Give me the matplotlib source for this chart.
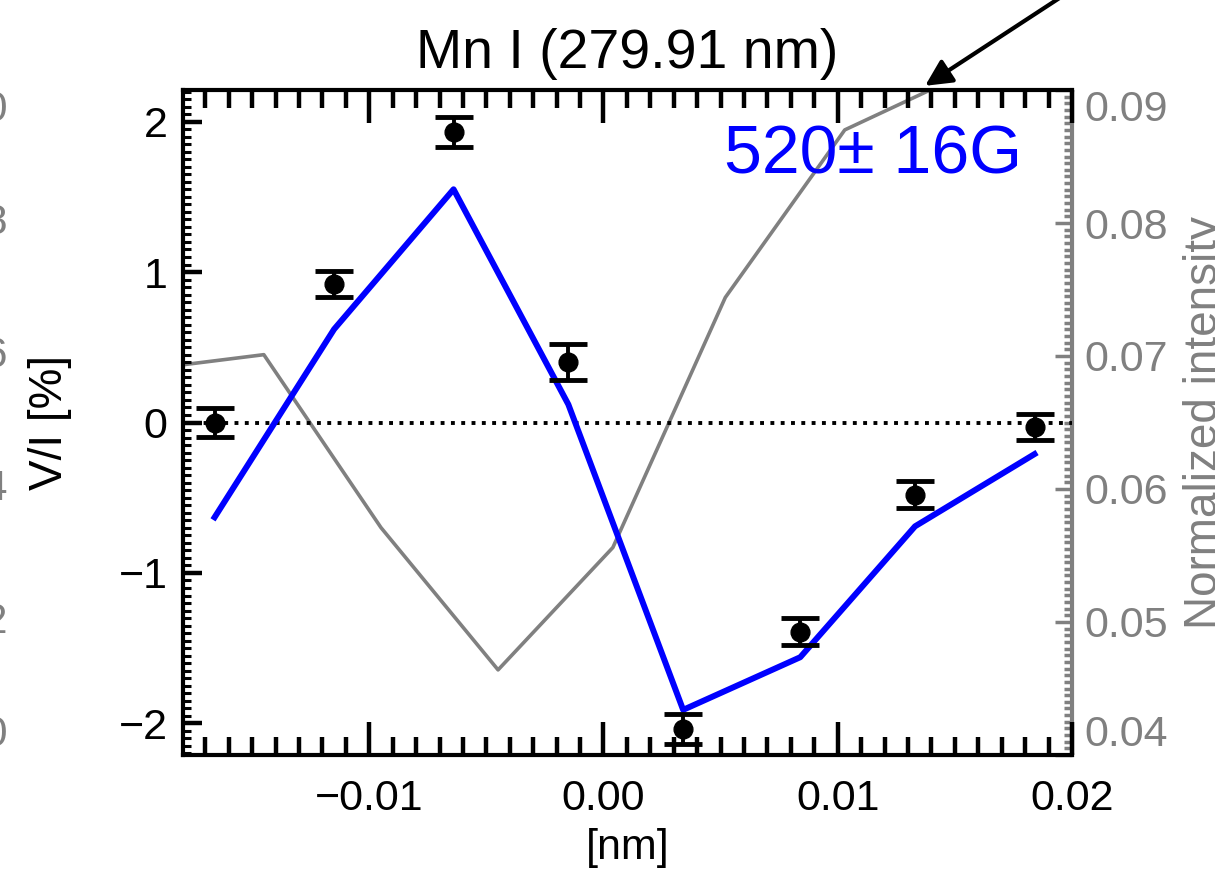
import numpy as np
import matplotlib.pyplot as plt
from matplotlib.ticker import MultipleLocator, FuncFormatter
from matplotlib.transforms import blended_transform_factory

plt.rcParams['font.family'] = ['Liberation Sans', 'DejaVu Sans']

# observed Stokes V/I with errors [%]
wl = [-0.0166, -0.0115, -0.0064, -0.0015, 0.0034, 0.0084, 0.0133, 0.0184]
vi = [0.00, 0.92, 1.93, 0.40, -2.04, -1.39, -0.48, -0.03]
vi_err = [0.095, 0.087, 0.10, 0.12, 0.10, 0.09, 0.09, 0.085]

# fitted profile
vi_fit = [-0.63, 0.62, 1.55, 0.12, -1.91, -1.56, -0.69, -0.21]

# normalized intensity profile
wl_int = [-0.0195, -0.0145, -0.0095, -0.0045, 0.0004, 0.0052, 0.0103, 0.0154]
intensity = [0.0690, 0.0701, 0.0571, 0.0464, 0.0556, 0.0744, 0.0870, 0.0912]

field_text = '520\u00b1 16G'

# right-axis labels of the neighbouring panel, cut by the left edge
neigh_labels = ['0.10', '0.08', '0.06', '0.04', '0.02', '0.00']
neigh_pos = [0.09, 0.08, 0.07, 0.06, 0.05, 0.04]

GRAY = '#808080'
TICKFS = 31
LABFS = 33


def fmt2(v, pos):
    s = format(v, '.2f')
    if s.startswith('-'):
        s = '\u2212' + s[1:]
    return s


def main():

    fig = plt.figure(figsize=(12.15, 8.73), dpi=100)
    ax = fig.add_axes([183/1215, 1 - 755/873, 889/1215, 665/873])
    ax2 = ax.twinx()
    ax.set_zorder(ax2.get_zorder() + 1)
    ax.patch.set_visible(False)

    # intensity on the right axis
    ax2.plot(wl_int, intensity, color=GRAY, linewidth=2.6)
    ax2.set_ylim(0.04, 0.09)
    ax2.yaxis.set_major_locator(MultipleLocator(0.01))
    ax2.yaxis.set_minor_locator(MultipleLocator(0.0005))
    ax2.yaxis.set_major_formatter(FuncFormatter(fmt2))
    ax2.tick_params(axis='y', which='both', direction='in', colors=GRAY, labelsize=TICKFS, pad=9, width=2.5)
    ax2.tick_params(axis='y', which='major', length=12)
    ax2.tick_params(axis='y', which='minor', length=6)
    for s in ['left', 'top', 'bottom']:
        ax2.spines[s].set_visible(False)
    ax2.spines['right'].set_color(GRAY)
    ax2.spines['right'].set_linewidth(3)
    ax2.set_ylabel('Normalized intensity', color=GRAY, fontsize=LABFS)
    ax2.yaxis.set_label_coords(1.125, 0.5)

    # V/I data and fit
    ax.axhline(0, color='k', linestyle=':', linewidth=2.8)
    ax.plot(wl, vi_fit, color='#0000FF', linewidth=4.3)
    ax.errorbar(wl, vi, yerr=vi_err, fmt='o', color='k', markersize=13.5,
                elinewidth=2.8, capsize=14, capthick=3.5)

    ax.set_xlim(-0.01795, 0.02)
    ax.set_ylim(-2.21, 2.21)
    ax.xaxis.set_major_locator(MultipleLocator(0.01))
    ax.xaxis.set_minor_locator(MultipleLocator(0.001))
    ax.xaxis.set_major_formatter(FuncFormatter(fmt2))
    ax.yaxis.set_major_locator(MultipleLocator(1))
    ax.yaxis.set_minor_locator(MultipleLocator(0.05))

    ax.tick_params(which='both', direction='in', top=True, right=False, color='k', width=3.2)
    ax.tick_params(axis='x', which='major', length=24, labelsize=TICKFS, pad=17)
    ax.tick_params(axis='x', which='minor', length=13)
    ax.tick_params(axis='y', which='major', length=14, labelsize=TICKFS, pad=11)
    ax.tick_params(axis='y', which='minor', length=6, width=2.2)
    ax.spines['right'].set_visible(False)
    for s in ['left', 'top', 'bottom']:
        ax.spines[s].set_linewidth(3)

    ax.set_xlabel('[nm]', fontsize=TICKFS)
    ax.xaxis.set_label_coords(0.5, -0.11)
    ax.set_ylabel('V/I [%]', fontsize=LABFS)
    ax.yaxis.set_label_coords(-0.125, 0.5)
    ax.set_title('Mn I (279.91 nm)', fontsize=40, pad=16)

    ax.text(0.944, 0.902, field_text, color='#0000FF', fontsize=49,
            ha='right', va='center', transform=ax.transAxes)

    # arrow coming from outside the frame
    ax2.annotate('', xy=(0.01363, 0.0902), xycoords='data',
                 xytext=(0.875, 1.005), textcoords='figure fraction',
                 arrowprops=dict(arrowstyle='-|>', color='k', lw=3, mutation_scale=40),
                 annotation_clip=False)

    # neighbour panel labels clipped at the left edge
    tr = blended_transform_factory(fig.transFigure, ax2.transData)
    for i, (lab, p) in enumerate(zip(neigh_labels, neigh_pos)):
        va = 'center'
        if i == 0:
            va = 'top'
        elif i == len(neigh_labels) - 1:
            va = 'bottom'
        fig.text(0.0066, p, lab, color=GRAY, fontsize=TICKFS, ha='right', va=va, transform=tr)

    fig.canvas.draw()
    labs = ax2.get_yticklabels()
    vis = [l for l in labs if 0.04 - 1e-9 <= l.get_position()[1] <= 0.09 + 1e-9]
    if vis:
        vis[-1].set_va('top')
        vis[0].set_va('bottom')

    fig.savefig('out.png', dpi=100)

    return


if __name__ == "__main__":
    main()
